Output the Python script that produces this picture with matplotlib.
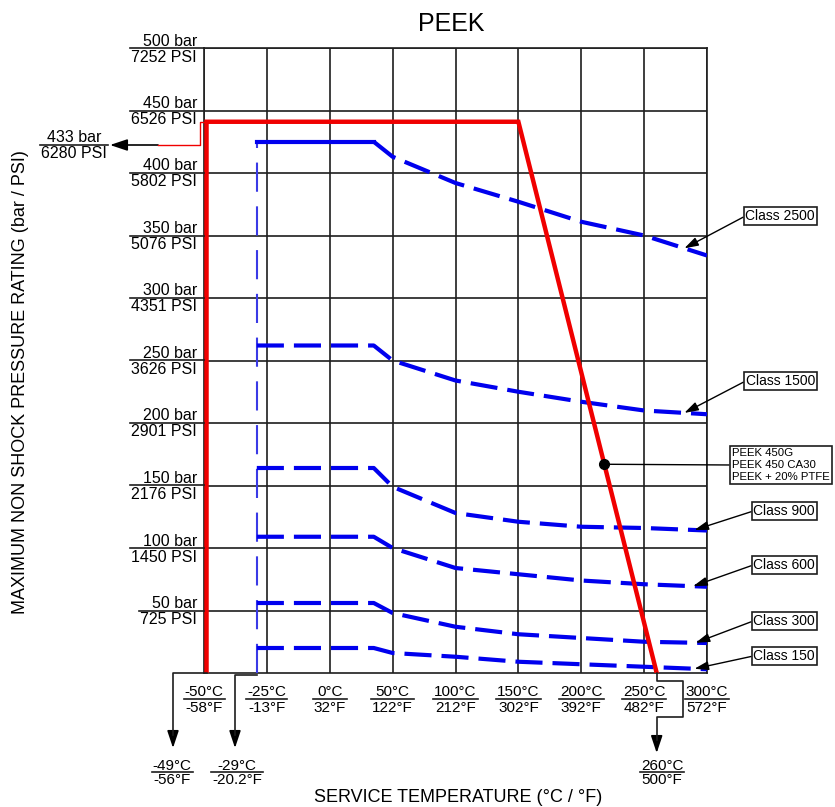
import numpy as np
import matplotlib
matplotlib.use('Agg')
import matplotlib.pyplot as plt
from matplotlib.lines import Line2D
from matplotlib.transforms import Affine2D, blended_transform_factory, offset_copy

plt.rcParams['font.family'] = ['Liberation Sans', 'DejaVu Sans']

W, H = 835, 807

# axis ticks
temp_c = [-50, -25, 0, 50, 100, 150, 200, 250, 300]
temp_f = ['-58°F', '-13°F', '32°F', '122°F', '212°F', '302°F', '392°F', '482°F', '572°F']
bar_ticks = [50, 100, 150, 200, 250, 300, 350, 400, 450, 500]
psi_ticks = ['725 PSI', '1450 PSI', '2176 PSI', '2901 PSI', '3626 PSI',
             '4351 PSI', '5076 PSI', '5802 PSI', '6526 PSI', '7252 PSI']

# PEEK material limit (red)
peek_t = [-49, -49, 150, 260]
peek_bar = [0, 441, 441, 0]
peek_dot_bar = 167
peek_grades = ['PEEK 450G', 'PEEK 450 CA30', 'PEEK + 20% PTFE']

# ASME class ratings (blue)
class_names = ['Class 2500', 'Class 1500', 'Class 900', 'Class 600', 'Class 300', 'Class 150']
class_t = [-29, 35, 50, 100, 150, 200, 250, 300]
class_2500 = [425, 425, 413, 392, 377, 361, 350, 334]
class_1500 = [262, 262, 250, 234, 225, 217, 210, 207]
class_900 = [164, 164, 149, 128, 121, 117, 116, 114]
class_600 = [109, 109, 100, 84, 79, 74, 71, 69]
class_300 = [56, 56, 48, 37, 31, 28, 25, 24]
class_150 = [20, 20, 16, 13, 9, 7, 5, 3]
class_vals = [class_2500, class_1500, class_900, class_600, class_300, class_150]
class_tip_t = [282, 282, 290, 289, 291, 290]
class_box_y = [216, 381, 511, 565, 621, 656]

GRID = '#1e1e1e'
RED = '#f00000'
BLUE = '#0000ee'


# the temperature axis is drawn with equal spacing between the labelled steps
def fwd(t):
    t = np.asarray(t, dtype=float)
    i = np.interp(t, temp_c, np.arange(9))
    i = np.where(t < -50, (t + 50) / 25, i)
    return np.where(t > 300, 8 + (t - 300) / 50, i)


def inv(i):
    i = np.asarray(i, dtype=float)
    t = np.interp(i, np.arange(9), temp_c)
    t = np.where(i < 0, -50 + i * 25, t)
    return np.where(i > 8, 300 + (i - 8) * 50, t)


fig = plt.figure(figsize=(W / 100, H / 100), dpi=100)
pxt = Affine2D().scale(1 / W, -1 / H).translate(0, 1) + fig.transFigure

ax = fig.add_axes([204 / W, 1 - 673 / H, (707 - 204) / W, (673 - 48) / H])
ax.set_xscale('function', functions=(fwd, inv))
ax.set_xlim(-50, 300)
ax.set_ylim(0, 500)
ax.set_xticks(temp_c)
ax.set_yticks(bar_ticks)
ax.tick_params(length=0, labelbottom=False, labelleft=False)
ax.set_axisbelow(True)
ax.grid(True, color=GRID, lw=1.2)
for s in ax.spines.values():
    s.set_color(GRID)
    s.set_linewidth(1.2)


def d2p(t, p):
    return pxt.inverted().transform(ax.transData.transform((t, p)))


# curves
ax.plot(peek_t, peek_bar, color=RED, lw=3.2, zorder=5, solid_joinstyle='miter')
ax.plot([-29, -29], [0, class_2500[0]], color='#3a3ae6', lw=1.5, dashes=(14, 7), zorder=4)
for name, vals in zip(class_names, class_vals):
    if name == 'Class 2500':
        ax.plot(class_t[:2], vals[:2], color=BLUE, lw=3, zorder=4)
        ax.plot(class_t[1:], vals[1:], color=BLUE, lw=3, dashes=(6.5, 2.4), zorder=4)
    else:
        ax.plot(class_t, vals, color=BLUE, lw=3, dashes=(6.5, 2.4), zorder=4)

small_arrow = dict(arrowstyle='-|>,head_length=0.7,head_width=0.22', color='black', lw=1,
                   mutation_scale=12, shrinkA=0, shrinkB=0, relpos=(0, 0.5))
for name, vals, tip, by in zip(class_names, class_vals, class_tip_t, class_box_y):
    ax.annotate(name, xy=(tip, np.interp(tip, class_t, vals)), xycoords='data',
                xytext=(815, by), textcoords=pxt, ha='right', va='center', fontsize=10,
                bbox=dict(boxstyle='square,pad=0.12', fc='white', ec=GRID, lw=1.2),
                arrowprops=small_arrow, annotation_clip=False, zorder=7)

# PEEK grades marker
t_dot = np.interp(peek_dot_bar, peek_bar[2:][::-1], peek_t[2:][::-1])
ax.plot(t_dot, peek_dot_bar, 'o', color='black', ms=7, zorder=6)
ax.annotate('\n'.join(peek_grades), xy=(t_dot, peek_dot_bar), xycoords='data',
            xytext=(732, 465), textcoords=pxt, ha='left', va='center', fontsize=8.2,
            linespacing=1.25,
            bbox=dict(boxstyle='square,pad=0.2', fc='white', ec=GRID, lw=1.2),
            arrowprops=dict(arrowstyle='-', color='black', lw=1, shrinkA=0, shrinkB=0,
                            relpos=(0, 0.5)),
            annotation_clip=False, zorder=7)

big_arrow = dict(arrowstyle='-|>,head_length=0.75,head_width=0.25', color='black', lw=1.2,
                 mutation_scale=14, shrinkA=0, shrinkB=0)


def path(pts, color=GRID, lw=1.2):
    pts = np.array(pts, dtype=float)
    fig.add_artist(Line2D(pts[:, 0], pts[:, 1], transform=pxt, color=color, lw=lw))


def arrow(p0, p1):
    fig.add_artist(matplotlib.patches.FancyArrowPatch(p0, p1, transform=pxt, **big_arrow))


# 433 bar marker on the left
x_top, y_top = d2p(peek_t[1], peek_bar[1])
path([(158, 145), (200, 145), (200, y_top), (x_top, y_top)], color=RED, lw=1)
arrow((158, 145), (110, 145))

# leaders to the low / high temperature limits
x0, y0 = d2p(peek_t[0], 0)
path([(x0, y0), (173, y0), (173, 735)])
arrow((173, 733), (173, 748))
x0, y0 = d2p(-29, 0)
path([(x0, y0 + 2), (235, y0 + 2), (235, 735)])
arrow((235, 733), (235, 748))
x0, y0 = d2p(peek_t[-1], 0)
path([(x0, y0), (x0, 681), (683, 681), (683, 717), (x0, 717), (x0, 740)])
arrow((x0, 738), (x0, 753))

# two-line labels with a rule between them
fracs = []


def frac(x, y, top, bottom, trans, size, ha='center', right=None):
    a = fig.text(x, y, top, transform=offset_copy(trans, fig=fig, y=2.5, units='dots'),
                 ha=ha, va='baseline', fontsize=size)
    b = fig.text(x, y, bottom, transform=offset_copy(trans, fig=fig, y=-1.5, units='dots'),
                 ha=ha, va='top', fontsize=size)
    fracs.append((a, b, x, y, trans, right))


ytrans = blended_transform_factory(pxt, ax.transData)
for b, p in zip(bar_ticks, psi_ticks):
    frac(197, b, f'{b} bar', p, ytrans, 11.5, ha='right', right=204)

xtrans = blended_transform_factory(ax.transData, pxt)
for t, f in zip(temp_c, temp_f):
    frac(t, 699, f'{t}°C', f, xtrans, 11)

frac(74, 145, '433 bar', '6280 PSI', pxt, 11.5)
frac(172, 772, '-49°C', '-56°F', pxt, 11)
frac(237, 772, '-29°C', '-20.2°F', pxt, 11)
frac(662, 772, '260°C', '500°F', pxt, 11)

fig.text(451, 31, 'PEEK', transform=pxt, ha='center', va='baseline', fontsize=18)
fig.text(21, 382, 'MAXIMUM NON SHOCK PRESSURE RATING (bar / PSI)', transform=pxt,
         rotation=90, ha='center', va='center', fontsize=13)
fig.text(458, 797, 'SERVICE TEMPERATURE (°C / °F)', transform=pxt,
         ha='center', va='center', fontsize=13)

fig.canvas.draw()
r = fig.canvas.get_renderer()
to_px = pxt.inverted()
for a, b, x, y, trans, right in fracs:
    ea = a.get_window_extent(r)
    eb = b.get_window_extent(r)
    yd = trans.transform((x, y))[1]
    x_l = min(ea.x0, eb.x0) - 1
    x_r = max(ea.x1, eb.x1) + 1
    if right is not None:
        x_r = pxt.transform((right, 0))[0]
    pts = to_px.transform([[x_l, yd], [x_r, yd]])
    path(pts)

fig.savefig('out.png', dpi=100)
